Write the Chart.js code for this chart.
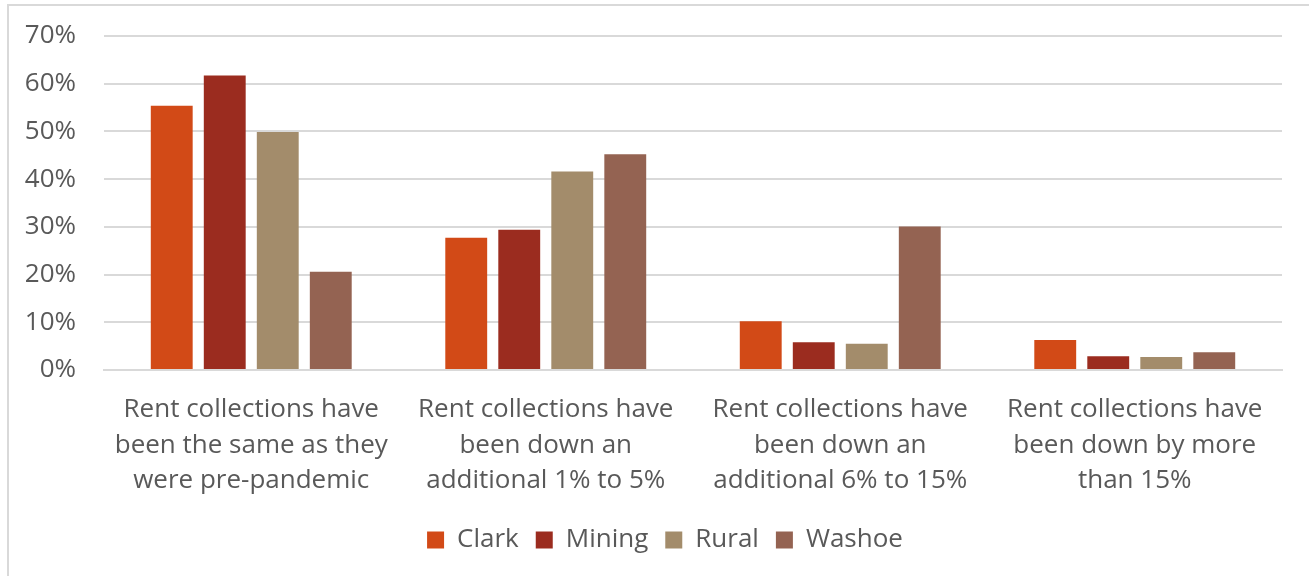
<!DOCTYPE html>
<html>
<head>
<meta charset="utf-8">
<script src="https://cdn.jsdelivr.net/npm/chart.js@4/dist/chart.umd.min.js"></script>
<style>
  html, body { margin: 0; padding: 0; background: #ffffff; }
  body { width: 1309px; height: 576px; position: relative; overflow: hidden; }
  #frame { position: absolute; left: 7px; top: 4px; width: 1320px; height: 600px;
           border-left: 2px solid #d9d9d9; border-top: 2px solid #d9d9d9; box-sizing: border-box; }
  #chart { position: absolute; left: 0; top: 0; }
</style>
</head>
<body>
<div id="frame"></div>
<canvas id="chart" width="1309" height="576"></canvas>
<script>
// Rent collection outcomes by region (share of respondents)
const categories = [
  ["Rent collections have", "been the same as they", "were pre-pandemic"],
  ["Rent collections have", "been down an", "additional 1% to 5%"],
  ["Rent collections have", "been down an", "additional 6% to 15%"],
  ["Rent collections have", "been down by more", "than 15%"]
];
const seriesNames = ["Clark", "Mining", "Rural", "Washoe"];
const clark  = [55.4, 27.7, 10.2, 6.3];
const mining = [61.7, 29.4, 5.8, 2.9];
const rural  = [49.9, 41.6, 5.5, 2.7];
const washoe = [20.6, 45.2, 30.1, 3.7];
const yTicks = [0, 10, 20, 30, 40, 50, 60, 70];

const colors = ["#D24A17", "#9B2C1F", "#A38C6B", "#946352"];
const seriesValues = [clark, mining, rural, washoe];

const font = { family: "'Open Sans', sans-serif", size: 26 };
const textColor = "#595959";
const gridColor = "#d9d9d9";

// Nudge the legend row to the right so it sits under the middle of the plot
const legendShift = {
  id: "legendShift",
  afterLayout(chart) {
    const l = chart.legend;
    if (l) { l.left += 24; l.right += 24; }
  }
};

new Chart(document.getElementById("chart"), {
  type: "bar",
  data: {
    labels: categories,
    datasets: seriesNames.map((name, i) => ({
      label: name,
      data: seriesValues[i],
      backgroundColor: colors[i],
      borderWidth: 0,
      barPercentage: 0.79,
      categoryPercentage: 0.72
    }))
  },
  plugins: [legendShift],
  options: {
    responsive: false,
    animation: false,
    devicePixelRatio: 1,
    layout: { padding: { top: 36, right: 27, bottom: 13, left: 0 } },
    plugins: {
      legend: {
        position: "bottom",
        labels: {
          color: textColor,
          font: font,
          boxWidth: 17,
          boxHeight: 17,
          padding: 17
        }
      },
      tooltip: { enabled: false }
    },
    scales: {
      x: {
        grid: { display: false },
        border: { display: true, color: gridColor, width: 2 },
        ticks: {
          color: textColor,
          font: { ...font, lineHeight: 1.365 },
          padding: 14,
          maxRotation: 0,
          autoSkip: false
        },
        afterFit: s => { s.height = 140; }
      },
      y: {
        min: 0,
        max: 70,
        afterBuildTicks: s => { s.ticks = yTicks.map(v => ({ value: v })); },
        grid: { color: gridColor, lineWidth: 2, drawTicks: false },
        border: { display: false },
        ticks: {
          color: textColor,
          font: font,
          padding: 28,
          callback: v => v + "%"
        },
        afterFit: s => { s.width = 104; s.paddingTop = 0; s.paddingBottom = 0; }
      }
    }
  }
});
</script>
</body>
</html>
